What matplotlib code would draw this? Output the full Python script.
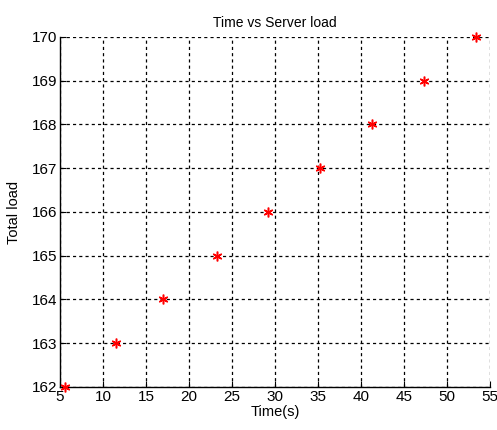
import matplotlib
matplotlib.use("Agg")
import matplotlib.pyplot as plt

time_s = [5.6, 11.5, 17.0, 23.3, 29.2, 35.2, 41.3, 47.3, 53.4]
total_load = [162, 163, 164, 165, 166, 167, 168, 169, 170]
x_ticks = [5, 10, 15, 20, 25, 30, 35, 40, 45, 50, 55]
y_ticks = [162, 163, 164, 165, 166, 167, 168, 169, 170]

plt.rcParams['font.family'] = ['Liberation Sans', 'DejaVu Sans']

fig = plt.figure(figsize=(4.97, 4.30), dpi=100)
ax = fig.add_axes([0.1207, 0.1, 0.8653, 0.814])
ax.plot(time_s, total_load, linestyle='none', marker=(6, 2, 0), color='red',
        markersize=7, markeredgewidth=1.1, clip_on=False, zorder=5)
ax.set_xlim(5, 55)
ax.set_ylim(162, 170)
ax.set_xticks(x_ticks)
ax.set_yticks(y_ticks)
ax.grid(True, color='black', linestyle=(0, (2.5, 2.5)), linewidth=0.9)
for s in ['top', 'right']:
    ax.spines[s].set_visible(False)
for s in ['left', 'bottom']:
    ax.spines[s].set_linewidth(1.0)
ax.tick_params(direction='in', length=4, labelsize=11, pad=2)
ax.set_title('Time vs Server load', fontsize=10, pad=7)
ax.set_xlabel('Time(s)', fontsize=10.5, labelpad=1)
ax.set_ylabel('Total load', fontsize=10.5, labelpad=8)
fig.savefig('out.png', dpi=100)
